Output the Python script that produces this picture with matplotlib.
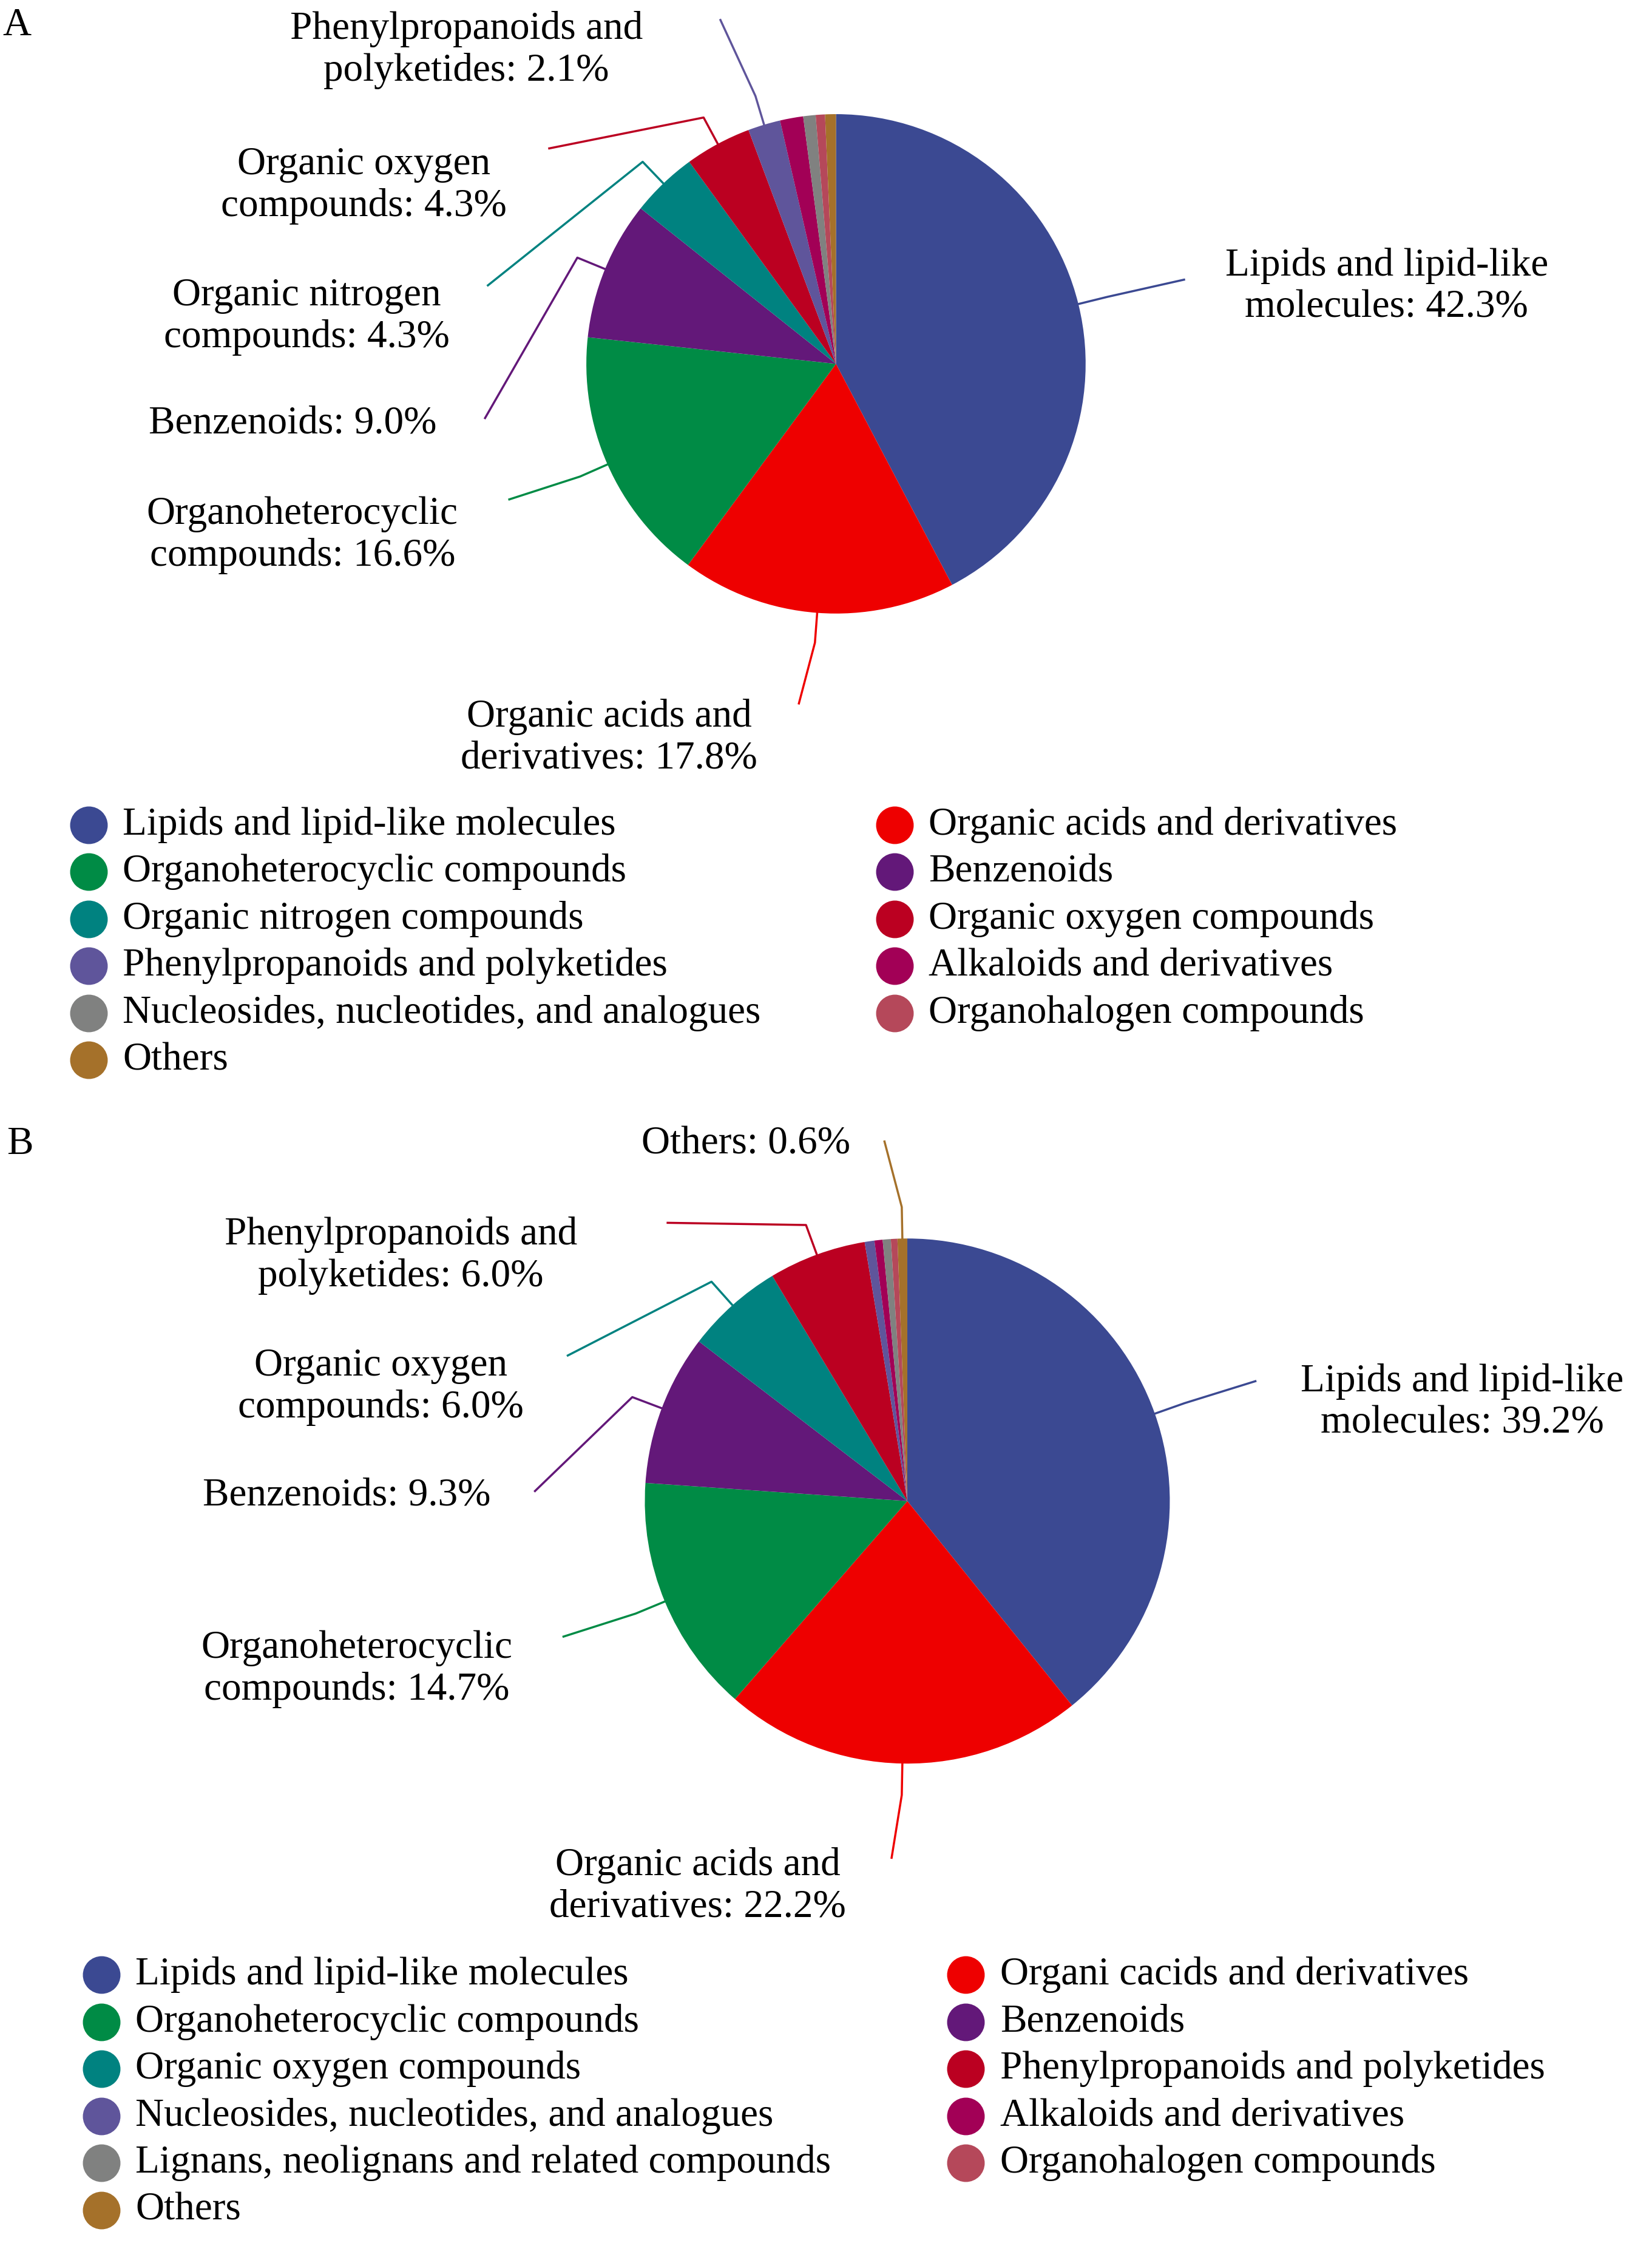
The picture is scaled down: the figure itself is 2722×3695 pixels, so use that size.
import matplotlib
matplotlib.use("Agg")
import matplotlib.pyplot as plt
import numpy as np

plt.rcParams['font.family'] = ['Liberation Serif', 'DejaVu Serif']

palette = ['#3B4992', '#EE0000', '#008B45', '#631879', '#008280', '#BB0021',
           '#5F559B', '#A20056', '#808180', '#B5485A', '#A5712A']

# panel A
cats_a = ['Lipids and lipid-like molecules', 'Organic acids and derivatives',
          'Organoheterocyclic compounds', 'Benzenoids', 'Organic nitrogen compounds',
          'Organic oxygen compounds', 'Phenylpropanoids and polyketides',
          'Alkaloids and derivatives', 'Nucleosides, nucleotides, and analogues',
          'Organohalogen compounds', 'Others']
vals_a = [42.3, 17.8, 16.6, 9.0, 4.3, 4.3, 2.1, 1.5, 0.8, 0.6, 0.7]
labels_a = ['Lipids and lipid-like\nmolecules: 42.3%', 'Organic acids and\nderivatives: 17.8%',
            'Organoheterocyclic\ncompounds: 16.6%', 'Benzenoids: 9.0%',
            'Organic nitrogen\ncompounds: 4.3%', 'Organic oxygen\ncompounds: 4.3%',
            'Phenylpropanoids and\npolyketides: 2.1%']

# panel B
cats_b = ['Lipids and lipid-like molecules', 'Organi cacids and derivatives',
          'Organoheterocyclic compounds', 'Benzenoids', 'Organic oxygen compounds',
          'Phenylpropanoids and polyketides', 'Nucleosides, nucleotides, and analogues',
          'Alkaloids and derivatives', 'Lignans, neolignans and related compounds',
          'Organohalogen compounds', 'Others']
vals_b = [39.2, 22.2, 14.7, 9.3, 6.0, 6.0, 0.6, 0.5, 0.5, 0.4, 0.6]
labels_b = {0: 'Lipids and lipid-like\nmolecules: 39.2%', 1: 'Organic acids and\nderivatives: 22.2%',
            2: 'Organoheterocyclic\ncompounds: 14.7%', 3: 'Benzenoids: 9.3%',
            4: 'Organic oxygen\ncompounds: 6.0%', 5: 'Phenylpropanoids and\npolyketides: 6.0%',
            10: 'Others: 0.6%'}

W, H = 1158, 1572
fig = plt.figure(figsize=(27.22, 36.95), dpi=100)
ax = fig.add_axes([0, 0, 1, 1])
FS = 47


def draw_pie(vals, center, radius, labels, spots):
    wedges, _ = ax.pie(vals, colors=palette, center=center, radius=radius,
                       startangle=270, counterclock=True,
                       wedgeprops={'linewidth': 0})
    for i, text in labels.items():
        w = wedges[i]
        ang = np.deg2rad((w.theta1 + w.theta2) / 2)
        x0 = center[0] + radius * np.cos(ang)
        y0 = center[1] + radius * np.sin(ang)
        xe = center[0] + radius * 1.12 * np.cos(ang)
        ye = center[1] + radius * 1.12 * np.sin(ang)
        (lx, ly), (tx, ty), ha = spots[i]
        ax.plot([x0, xe, lx], [y0, ye, ly], color=palette[i], lw=2.5)
        ax.text(tx, ty, text, fontsize=FS, ha='center', va='center', linespacing=1.2)


def draw_legend(cats, x_left, x_right, y0, step):
    n_left = (len(cats) + 1) // 2
    for k, c in enumerate(cats):
        col, row = k % 2, k // 2
        x = x_left if col == 0 else x_right
        y = y0 + row * step
        ax.scatter([x], [y], s=1900, color=palette[k], zorder=3)
        ax.text(x + 24, y, c, fontsize=FS, va='center', ha='left')


spots_a = {0: ((830, 196), (972, 201), 'left'),
           1: ((560, 493), (427, 517), 'center'),
           2: ((357, 350), (212, 375), 'center'),
           3: ((340, 293), (205, 297), 'center'),
           4: ((342, 200), (215, 222), 'center'),
           5: ((385, 104), (255, 130), 'center'),
           6: ((505, 14), (327, 35), 'center')}
draw_pie(vals_a, (586, 255), 175, dict(enumerate(labels_a)), spots_a)
draw_legend(cats_a, 62, 627, 578, 33)

spots_b = {0: ((880, 968), (1025, 983), 'left'),
           1: ((625, 1302), (489, 1322), 'center'),
           2: ((395, 1147), (250, 1170), 'center'),
           3: ((375, 1045), (243, 1048), 'center'),
           4: ((398, 950), (267, 972), 'center'),
           5: ((468, 857), (281, 880), 'center'),
           10: ((620, 800), (523, 802), 'center')}
draw_pie(vals_b, (636, 1052), 184, labels_b, spots_b)
draw_legend(cats_b, 71, 677, 1384, 33)

ax.text(12, 18, 'A', fontsize=FS, ha='center', va='center')
ax.text(14, 802, 'B', fontsize=FS, ha='center', va='center')

ax.set_xlim(0, W)
ax.set_ylim(H, 0)
ax.set_aspect('equal')
ax.axis('off')
fig.savefig('out.png', dpi=100)
